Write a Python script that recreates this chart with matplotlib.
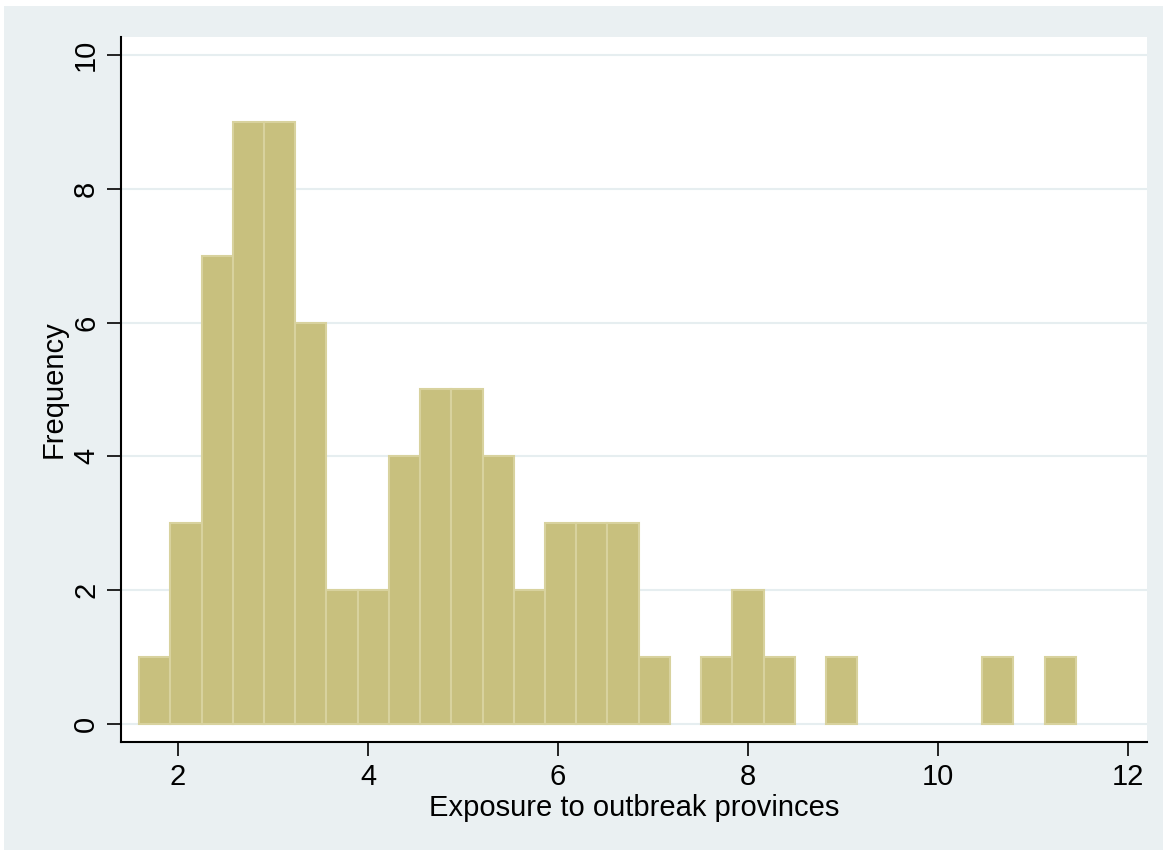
import numpy as np
import matplotlib
matplotlib.use("Agg")
import matplotlib.pyplot as plt
from matplotlib.patches import Rectangle

# histogram data (30 bins)
bin_start = 1.59
bin_width = 0.3287
counts = [1, 3, 7, 9, 9, 6, 2, 2, 4, 5, 5, 4, 2, 3, 3, 3, 1, 0,
          1, 2, 1, 0, 1, 0, 0, 0, 0, 1, 0, 1]
xticks = [2, 4, 6, 8, 10, 12]
yticks = [0, 2, 4, 6, 8, 10]

edges = bin_start + bin_width * np.arange(len(counts) + 1)
centers = (edges[:-1] + edges[1:]) / 2

plt.rcParams['font.family'] = ['Liberation Sans', 'DejaVu Sans']

fig = plt.figure(figsize=(11.67, 8.55), dpi=100)
fig.patch.set_facecolor('white')
fig.patches.append(Rectangle((4 / 1167, 0.006), 1 - 8 / 1167, 0.987,
                             transform=fig.transFigure, facecolor='#EAF0F2',
                             edgecolor='none', zorder=-10))

ax = fig.add_axes([0.1037, 0.1322, 0.8792, 0.8245])
ax.set_facecolor('white')

n, b, patches = ax.hist(centers, bins=edges, weights=counts, color='#C8C07E',
                        edgecolor='#D8D29E', linewidth=1.5, zorder=3)
# empty bins: no outline on the baseline
for c, p in zip(counts, patches):
    if c == 0:
        p.set_visible(False)

ax.set_xlim(1.4, 12.2)
ax.set_ylim(-0.27, 10.27)
ax.set_xticks(xticks)
ax.set_yticks(yticks)
ax.yaxis.grid(True, color='#E6EEF0', linewidth=1.5, zorder=0)
ax.set_axisbelow(True)

for s in ['top', 'right']:
    ax.spines[s].set_visible(False)
for s in ['left', 'bottom']:
    ax.spines[s].set_linewidth(1.5)
    ax.spines[s].set_color('black')

ax.tick_params(axis='both', length=10, width=1.2, labelsize=21, pad=5)
plt.setp(ax.get_yticklabels(), rotation=90, va='center')

ax.set_xlabel('Exposure to outbreak provinces', fontsize=21, labelpad=2)
ax.set_ylabel('Frequency', fontsize=21, labelpad=3)

fig.savefig('out.png', dpi=100, facecolor=fig.get_facecolor())
